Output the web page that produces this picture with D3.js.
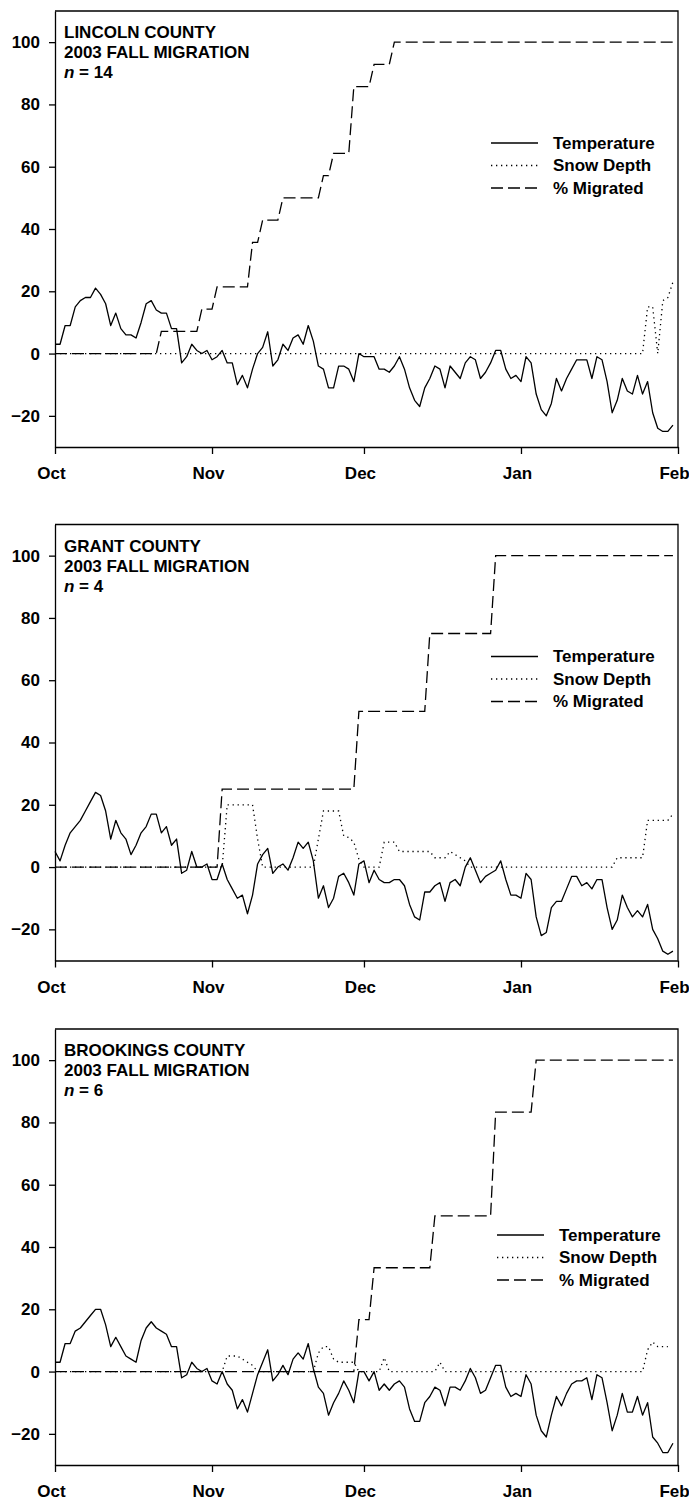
<!DOCTYPE html>
<html>
<head>
<meta charset="utf-8">
<script src="https://cdn.jsdelivr.net/npm/d3@7"></script>
<style>
  body { margin: 0; background: #fff; }
</style>
</head>
<body>
<div id="chart"></div>
<script>
// tick labels
const monthLabels = ["Oct", "Nov", "Dec", "Jan", "Feb"];
const yTicks = [-20, 0, 20, 40, 60, 80, 100];
const legendLabels = ["Temperature", "Snow Depth", "% Migrated"];

// day 0 = 1 Oct 2003, one temperature value per day
// snow depth and % migrated are [day, value] vertices

// Lincoln County
const lincolnTitle = ["LINCOLN COUNTY", "2003 FALL MIGRATION"];
const lincolnN = "14";
const lincolnTemp = [
  3, 3, 9, 9, 15, 17, 18, 18, 21, 19,
  16, 9, 13, 8, 6, 6, 5, 10, 16, 17,
  14, 13, 13, 8, 8, -3, -1, 3, 1, 0,
  1, -2, -1, 1, -3, -3, -10, -7, -11, -5,
  0, 2, 7, -4, -2, 3, 1, 5, 6, 3,
  9, 4, -4, -5, -11, -11, -4, -4, -5, -9,
  0, -1, -1, -1, -5, -5, -6, -4, -1, -5,
  -11, -15, -17, -11, -8, -4, -5, -11, -4, -6,
  -8, -3, -1, -2, -8, -6, -3, 1, 1, -5,
  -8, -7, -9, -1, -3, -13, -18, -20, -16, -8,
  -12, -8, -5, -2, -2, -2, -8, -1, -2, -9,
  -19, -15, -8, -12, -13, -7, -13, -9, -19, -24,
  -25, -25, -23
];
const lincolnSnow = [[0, 0], [116, 0], [117, 15], [118, 15], [119, 0], [120, 17], [121, 18], [122, 23]];
const lincolnMigrated = [
  [0, 0], [20, 0], [21, 7.14], [28, 7.14], [29, 14.29], [31, 14.29], [32, 21.43], [38, 21.43],
  [39, 35.71], [40, 35.71], [41, 42.86], [44, 42.86], [45, 50], [52, 50], [53, 57.14], [54, 57.14],
  [55, 64.29], [58, 64.29], [59, 85.71], [62, 85.71], [63, 92.86], [66, 92.86], [67, 100], [122, 100]
];

// Grant County
const grantTitle = ["GRANT COUNTY", "2003 FALL MIGRATION"];
const grantN = "4";
const grantTemp = [
  5, 2, 7, 11, 13, 15, 18, 21, 24, 23,
  18, 9, 15, 11, 9, 4, 7, 11, 13, 17,
  17, 11, 13, 7, 9, -2, -1, 5, 0, 0,
  1, -4, -4, 1, -4, -7, -10, -9, -15, -9,
  1, 4, 6, -2, 0, 1, -1, 3, 8, 6,
  8, 2, -10, -6, -13, -10, -3, -2, -5, -9,
  1, 2, -5, -1, -4, -5, -5, -4, -4, -6,
  -12, -16, -17, -8, -8, -6, -5, -11, -5, -4,
  -6, 0, 3, -1, -5, -3, -2, -1, 2, -4,
  -9, -9, -10, -2, -4, -16, -22, -21, -13, -11,
  -11, -7, -3, -3, -6, -5, -7, -4, -4, -13,
  -20, -17, -9, -13, -16, -14, -16, -12, -20, -23,
  -27, -28, -27
];
const grantSnow = [
  [0, 0], [33, 0], [34, 20], [39, 20], [40, 9], [41, 0], [51, 0], [52, 9], [53, 18], [56, 18],
  [57, 10], [58, 9.5], [59, 8], [60, 2.5], [61, 0], [64, 0], [65, 8], [67, 8], [68, 5], [74, 5],
  [75, 3], [77, 3], [78, 5], [79, 4], [81, 2], [82, 0], [110, 0], [111, 3], [116, 3], [117, 15],
  [121, 15], [122, 17]
];
const grantMigrated = [[0, 0], [32, 0], [33, 25], [59, 25], [60, 50], [73, 50], [74, 75], [86, 75], [87, 100], [122, 100]];

// Brookings County
const brookingsTitle = ["BROOKINGS COUNTY", "2003 FALL MIGRATION"];
const brookingsN = "6";
const brookingsTemp = [
  3, 3, 9, 9, 13, 14, 16, 18, 20, 20,
  15, 8, 11, 8, 5, 4, 3, 10, 14, 16,
  14, 13, 12, 8, 8, -2, -1, 3, 1, 0,
  1, -3, -4, 0, -4, -6, -12, -9, -13, -7,
  -1, 3, 7, -3, -1, 2, -1, 4, 6, 4,
  9, 1, -5, -7, -14, -10, -7, -3, -6, -10,
  0, 0, -3, 0, -6, -4, -6, -4, -3, -5,
  -12, -16, -16, -10, -8, -5, -6, -11, -5, -5,
  -6, -3, 1, -2, -7, -6, -2, 2, 2, -5,
  -8, -7, -8, -1, -4, -14, -19, -21, -14, -8,
  -11, -7, -4, -3, -3, -2, -9, -1, -2, -10,
  -19, -14, -7, -13, -13, -8, -14, -10, -21, -23,
  -26, -26, -23
];
const brookingsSnow = [
  [0, 0], [33, 0], [34, 5], [36, 5], [37, 4], [39, 2], [40, 0], [51, 0], [52, 6], [53, 8],
  [54, 8], [55, 4], [56, 3], [59, 3], [60, 0], [64, 0], [65, 4.5], [66, 0], [75, 0], [76, 3],
  [77, 0], [116, 0], [117, 7], [118, 9.5], [119, 8], [121, 8]
];
const brookingsMigrated = [
  [0, 0], [59, 0], [60, 16.67], [62, 16.67], [63, 33.33], [74, 33.33], [75, 50], [86, 50],
  [87, 83.33], [94, 83.33], [95, 100], [122, 100]
];

// layout
const W = 689, H = 1501;
const left = 55, right = 678, plotH = 436;
const font = "'Liberation Sans', Arial, Helvetica, sans-serif";

const panels = [
  {top: 11, title: lincolnTitle, n: lincolnN, temp: lincolnTemp, snow: lincolnSnow, mig: lincolnMigrated, lx: 491, ly: 132},
  {top: 524.5, title: grantTitle, n: grantN, temp: grantTemp, snow: grantSnow, mig: grantMigrated, lx: 491, ly: 132},
  {top: 1029, title: brookingsTitle, n: brookingsN, temp: brookingsTemp, snow: brookingsSnow, mig: brookingsMigrated, lx: 497, ly: 206}
];

const start = new Date(Date.UTC(2003, 9, 1));
const end = new Date(Date.UTC(2004, 1, 1));
const day = d => d3.utcDay.offset(start, d);
const months = d3.utcMonth.range(start, d3.utcDay.offset(end, 1));

const x = d3.scaleUtc().domain([start, end]).range([left, right]);

const svg = d3.select("#chart")
    .append("svg")
    .attr("width", W)
    .attr("height", H)
    .style("display", "block");

const styles = [
  {dash: null},          // temperature
  {dash: "1.3,3.7"},     // snow
  {dash: "12,5"}         // migrated
];

panels.forEach(function(p) {
  const g = svg.append("g").attr("transform", `translate(0,${p.top})`);

  const y = d3.scaleLinear()
      .domain([-30, 110])
      .range([plotH, 0]);

  // axes
  const yAxis = g.append("g")
      .attr("transform", `translate(${left},0)`)
      .call(d3.axisLeft(y).tickValues(yTicks).tickSize(6).tickPadding(9).tickSizeOuter(0));

  const xAxis = g.append("g")
      .attr("transform", `translate(0,${plotH})`)
      .call(d3.axisBottom(x).tickValues(months).tickSize(7).tickPadding(13).tickSizeOuter(0)
            .tickFormat((d, i) => monthLabels[i]));
  xAxis.selectAll("text").attr("dx", -4);

  [yAxis, xAxis].forEach(function(a) {
    a.attr("font-family", font).attr("font-size", 17).attr("font-weight", "bold");
    a.selectAll("path, line").attr("stroke", "#000").attr("stroke-width", 1.3);
    a.selectAll("text").attr("fill", "#000");
  });

  // top and right border
  g.append("path")
      .attr("d", `M${left},0H${right}V${plotH}`)
      .attr("fill", "none")
      .attr("stroke", "#000")
      .attr("stroke-width", 1.3);

  const stepLine = d3.line()
      .x(d => x(day(d[0])))
      .y(d => y(d[1]));
  const tempLine = d3.line()
      .x((d, i) => x(day(i)))
      .y(d => y(d));

  g.append("path")
      .datum(p.mig)
      .attr("d", stepLine)
      .attr("fill", "none")
      .attr("stroke", "#000")
      .attr("stroke-width", 1.3)
      .attr("stroke-dasharray", styles[2].dash);

  g.append("path")
      .datum(p.snow)
      .attr("d", stepLine)
      .attr("fill", "none")
      .attr("stroke", "#000")
      .attr("stroke-width", 1.3)
      .attr("stroke-dasharray", styles[1].dash);

  g.append("path")
      .datum(p.temp)
      .attr("d", tempLine)
      .attr("fill", "none")
      .attr("stroke", "#000")
      .attr("stroke-width", 1.3)
      .attr("stroke-linejoin", "round");

  // title block
  const t = g.append("text")
      .attr("x", 64)
      .attr("y", 27)
      .attr("font-family", font)
      .attr("font-size", 17)
      .attr("font-weight", "bold");
  p.title.forEach(function(line, i) {
    t.append("tspan").attr("x", 64).attr("y", 27 + i * 20).text(line);
  });
  const nt = t.append("tspan").attr("x", 64).attr("y", 67);
  nt.append("tspan").attr("font-style", "italic").text("n");
  nt.append("tspan").text(" = " + p.n);

  // legend
  legendLabels.forEach(function(label, i) {
    const ly = p.ly + i * 22.5;
    g.append("line")
        .attr("x1", p.lx).attr("x2", p.lx + 47)
        .attr("y1", ly).attr("y2", ly)
        .attr("stroke", "#000")
        .attr("stroke-width", 1.3)
        .attr("stroke-dasharray", styles[i].dash);
    g.append("text")
        .attr("x", p.lx + 62)
        .attr("y", ly)
        .attr("dy", "0.35em")
        .attr("font-family", font)
        .attr("font-size", 17)
        .attr("font-weight", "bold")
        .text(label);
  });
});
</script>
</body>
</html>
